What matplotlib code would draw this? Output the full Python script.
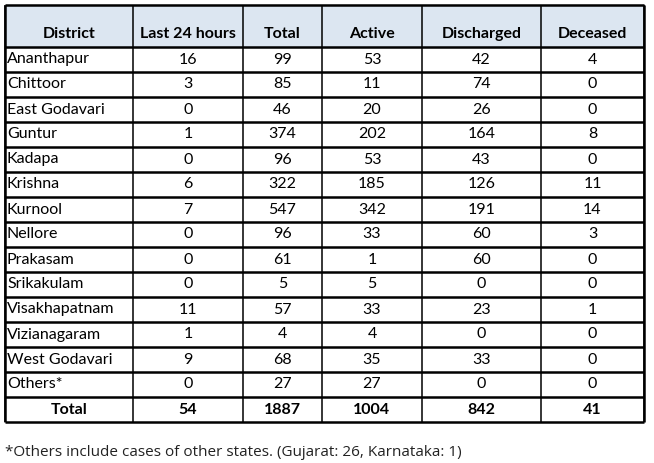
import matplotlib.pyplot as plt

plt.rcParams['font.family'] = ['Lato', 'DejaVu Sans']

# Dados da tabela
columns = ['District', 'Last 24 hours', 'Total', 'Active', 'Discharged', 'Deceased']
districts = ['Ananthapur', 'Chittoor', 'East Godavari', 'Guntur', 'Kadapa', 'Krishna',
             'Kurnool', 'Nellore', 'Prakasam', 'Srikakulam', 'Visakhapatnam',
             'Vizianagaram', 'West Godavari', 'Others*']
last_24h = [16, 3, 0, 1, 0, 6, 7, 0, 0, 0, 11, 1, 9, 0]
total = [99, 85, 46, 374, 96, 322, 547, 96, 61, 5, 57, 4, 68, 27]
active = [53, 11, 20, 202, 53, 185, 342, 33, 1, 5, 33, 4, 35, 27]
discharged = [42, 74, 26, 164, 43, 126, 191, 60, 60, 0, 23, 0, 33, 0]
deceased = [4, 0, 0, 8, 0, 11, 14, 3, 0, 0, 1, 0, 0, 0]
totals = [54, 1887, 1004, 842, 41]
footnote = '*Others include cases of other states. (Gujarat: 26, Karnataka: 1)'

# Layout em pixels
W, H = 654, 463
col_x = [5, 133, 243, 322, 422, 541, 644]
top, head_bottom, bottom = 5, 47, 422
n_rows = len(districts) + 1
row_h = (bottom - head_bottom) / n_rows
row_y = [head_bottom + i * row_h for i in range(n_rows + 1)]

fig = plt.figure(figsize=(W / 100, H / 100), dpi=100)
ax = fig.add_axes([0, 0, 1, 1])
ax.set_xlim(0, W)
ax.set_ylim(H, 0)
ax.axis('off')

# Fundo do cabeçalho
ax.fill_between([col_x[0], col_x[-1]], top, head_bottom, color='#dce6f1', zorder=0)

# Linhas
ax.hlines([top, head_bottom] + row_y[1:], col_x[0], col_x[-1], color='black', lw=1.8)
ax.vlines(col_x, top, bottom, color='black', lw=1.1)
ax.vlines([col_x[0], col_x[-1]], top, bottom, color='black', lw=1.8)

centers = [(col_x[i] + col_x[i + 1]) / 2 for i in range(len(col_x) - 1)]
fs = 11.5

for i, c in enumerate(columns):
    ax.text(centers[i], 34, c, ha='center', va='center', fontsize=fs, fontweight='bold')

rows = list(zip(districts, last_24h, total, active, discharged, deceased))
for r, row in enumerate(rows):
    yc = (row_y[r] + row_y[r + 1]) / 2
    ax.text(col_x[0] + 2, yc, row[0], ha='left', va='center', fontsize=fs)
    for j, v in enumerate(row[1:]):
        ax.text(centers[j + 1], yc, str(v), ha='center', va='center', fontsize=fs)

yc = (row_y[-2] + row_y[-1]) / 2
ax.text(centers[0], yc, 'Total', ha='center', va='center', fontsize=fs, fontweight='bold')
for j, v in enumerate(totals):
    ax.text(centers[j + 1], yc, str(v), ha='center', va='center', fontsize=fs, fontweight='bold')

ax.text(5, 452, footnote, ha='left', va='center', fontsize=11, color='#222222',
        family=['Open Sans', 'DejaVu Sans'])

fig.savefig('out.png', dpi=100)
